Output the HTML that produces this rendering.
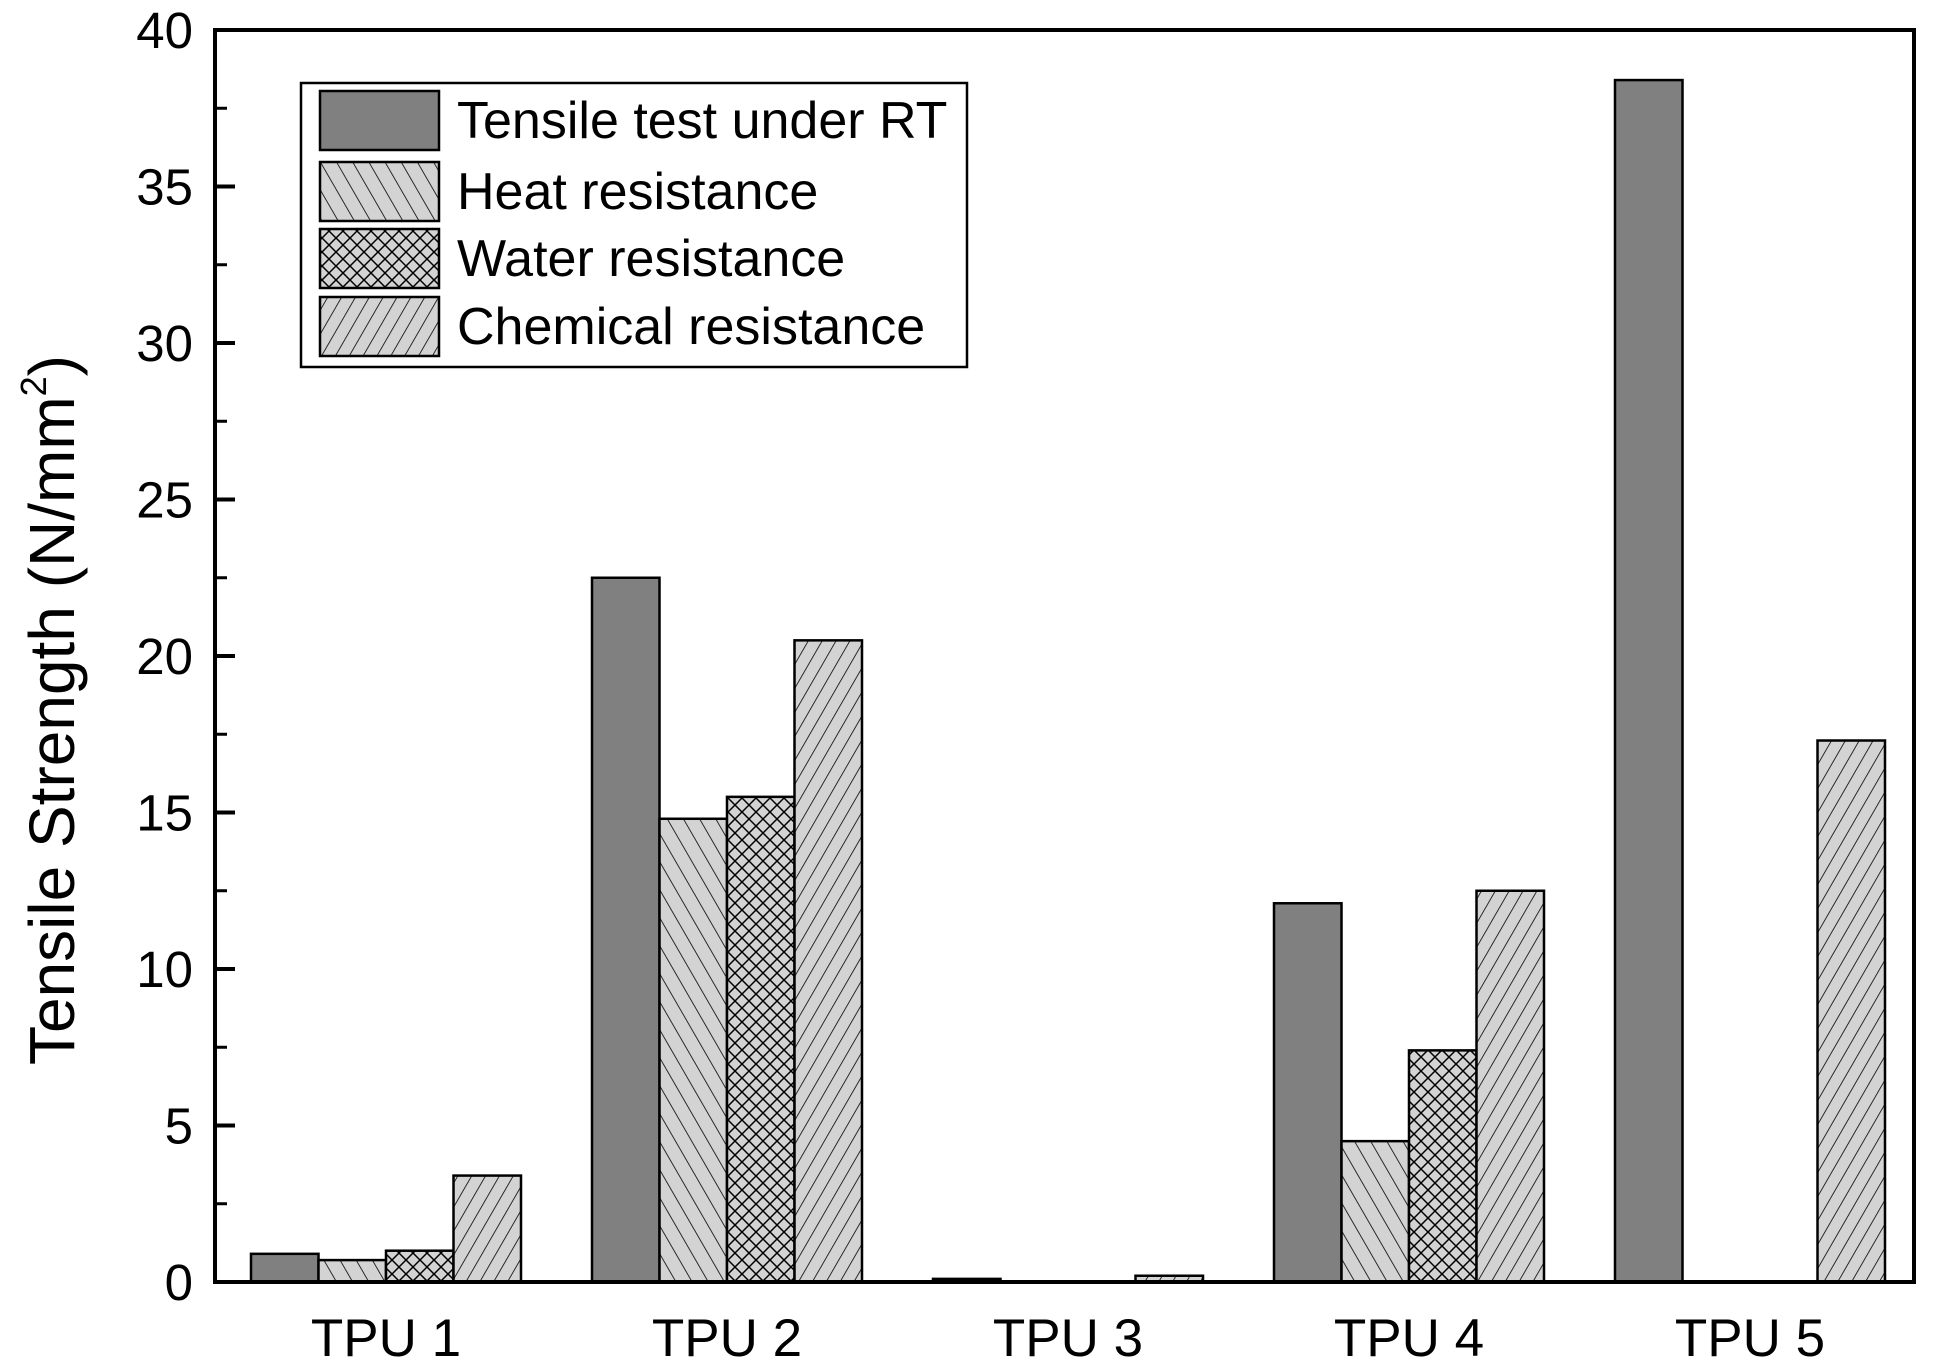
<!DOCTYPE html>
<html><head><meta charset="utf-8">
<style>
html,body{margin:0;padding:0;background:#fff;}
svg{display:block;font-family:"Liberation Sans",Arial,sans-serif;}
</style></head>
<body>
<svg id="chart" width="1941" height="1363" viewBox="0 0 1941 1363" xmlns="http://www.w3.org/2000/svg">
<defs>
<pattern id="p-heat" patternUnits="userSpaceOnUse" width="14" height="14" patternTransform="rotate(-30)">
<rect width="14" height="14" fill="#d3d3d3"/><line x1="0" y1="0" x2="0" y2="14" stroke="#000" stroke-width="1.6"/></pattern>
<pattern id="p-water" patternUnits="userSpaceOnUse" width="14" height="14">
<rect width="14" height="14" fill="#d3d3d3"/>
<path d="M0,0 L14,14 M14,0 L0,14 M-7,7 L7,21 M7,-7 L21,7 M7,-7 L-7,7 M21,7 L7,21" stroke="#000" stroke-width="1.5"/></pattern>
<pattern id="p-chem" patternUnits="userSpaceOnUse" width="12" height="12" patternTransform="rotate(30)">
<rect width="12" height="12" fill="#d3d3d3"/><line x1="0" y1="0" x2="0" y2="12" stroke="#000" stroke-width="1.6"/></pattern>
</defs>
<g id="bars"></g>
<g id="axes"></g>
<g id="legend"></g>
</svg>
<script>
const categories = ["TPU 1","TPU 2","TPU 3","TPU 4","TPU 5"];
const seriesNames = ["Tensile test under RT","Heat resistance","Water resistance","Chemical resistance"];
const tensileRT = [0.9, 22.5, 0.1, 12.1, 38.4];
const heatRes = [0.7, 14.8, 0, 4.5, 0];
const waterRes = [1.0, 15.5, 0, 7.4, 0];
const chemRes = [3.4, 20.5, 0.2, 12.5, 17.3];
const yTicks = [0,5,10,15,20,25,30,35,40];

const NS="http://www.w3.org/2000/svg";
const L=215,R=1914,T=30,B=1282,yMax=40;
const y=v=>B-(v/yMax)*(B-T);
const groupStart=251, groupStep=341, barW=67.5;
const x=(gi,si)=>groupStart+gi*groupStep+si*barW;
const fills=["#808080","url(#p-heat)","url(#p-water)","url(#p-chem)"];
const series=[tensileRT,heatRes,waterRes,chemRes];
const seriesKeys=["tensile-rt","heat-resistance","water-resistance","chemical-resistance"];
function mk(tag,attrs,parent){const e=document.createElementNS(NS,tag);for(const k in attrs)e.setAttribute(k,attrs[k]);parent.appendChild(e);return e;}

const gb=document.getElementById('bars');
series.forEach((vals,si)=>{
  vals.forEach((v,gi)=>{
    if(v<=0) return;
    const r=mk('rect',{x:x(gi,si),y:y(v),width:barW,height:B-y(v),fill:fills[si],stroke:'#000','stroke-width':2.5},gb);
    
    
  });
});

const ga=document.getElementById('axes');
const frame=mk('rect',{x:L,y:T,width:R-L,height:B-T,fill:'none',stroke:'#000','stroke-width':4},ga);


yTicks.forEach(t=>{
  const tk=mk('line',{x1:L,x2:L+20,y1:y(t),y2:y(t),stroke:'#000','stroke-width':4},ga);
  
  
  if(t<yMax){
    const m=mk('line',{x1:L,x2:L+12,y1:y(t+2.5),y2:y(t+2.5),stroke:'#000','stroke-width':3},ga);
    
    
  }
  const tx=mk('text',{x:L-22,y:y(t)+18,'text-anchor':'end','font-size':51},ga);
  tx.textContent=t;
  
  
});
categories.forEach((c,gi)=>{
  const tx=mk('text',{x:x(gi,2),y:1356,'text-anchor':'middle','font-size':53},ga);
  tx.textContent=c;
  
  
});
const yt=mk('text',{x:0,y:0,'text-anchor':'middle','font-size':64,transform:'translate(74,710) rotate(-90)'},ga);


yt.innerHTML='Tensile Strength (N/mm<tspan dy="-28" font-size="36">2</tspan><tspan dy="28">)</tspan>';

const gl=document.getElementById('legend');
const lb=mk('rect',{x:301,y:83,width:666,height:284,fill:'#fff',stroke:'#000','stroke-width':2.5},gl);


const rowsY=[91,162,229,297];
seriesNames.forEach((n,si)=>{
  const g=mk('g',{},gl);
  
  
  mk('rect',{x:320,y:rowsY[si],width:119,height:59,fill:fills[si],stroke:'#000','stroke-width':2.5},g);
  const t=mk('text',{x:457,y:rowsY[si]+47,'font-size':52},g);
  t.textContent=n;
});
</script>
</body></html>
